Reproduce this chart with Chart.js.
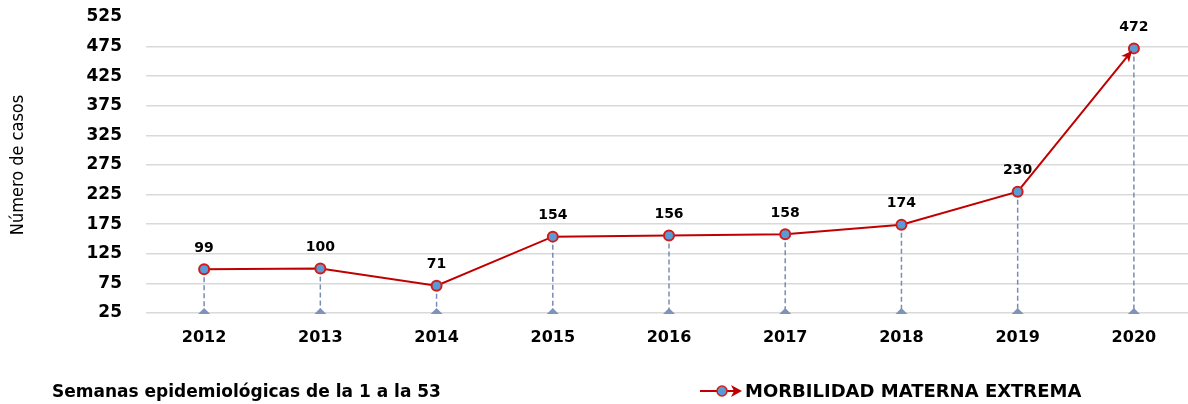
<!DOCTYPE html>
<html>
<head>
<meta charset="utf-8">
<script src="https://cdn.jsdelivr.net/npm/chart.js@4.4.1/dist/chart.umd.min.js"></script>
<style>
  body { margin: 0; width: 1188px; height: 404px; overflow: hidden; background: #fff; font-family: "DejaVu Sans", sans-serif; }
  #wrap { position: absolute; left: 0; top: 0; width: 1199px; height: 404px; }
  .note { position: absolute; font-weight: bold; font-size: 17px; color: #000; white-space: nowrap; }
</style>
</head>
<body>
<div id="wrap"><canvas id="morbilidad"></canvas></div>
<div class="note" style="left:52px; top:381px;">Semanas epidemiológicas de la 1 a la 53</div>
<div class="note" style="left:700px; top:380px; font-size:18px;">
  <svg width="42" height="20" style="vertical-align:-4px">
    <line x1="0" y1="10" x2="36" y2="10" stroke="#c00000" stroke-width="2"/>
    <circle cx="22" cy="10" r="5" fill="#5b9bd5" stroke="#d01c1c" stroke-width="1.5"/>
    <polygon points="42,10 31,4 34,10 31,16" fill="#c00000"/>
  </svg><span style="margin-left:3px">MORBILIDAD MATERNA EXTREMA</span>
</div>

<script>
const anios = ['2012', '2013', '2014', '2015', '2016', '2017', '2018', '2019', '2020'];
const casos = [99, 100, 71, 154, 156, 158, 174, 230, 472];
const yMin = 25;
const yMax = 525;
const yPaso = 50;

const rojo = '#c00000';
const azul = '#5b9bd5';
const gris = '#7a8db3';

// lineas verticales punteadas, triangulos en la base, etiquetas y flecha final
const extras = {
  id: 'extras',
  beforeDatasetsDraw(chart) {
    const ctx = chart.ctx, x = chart.scales.x, y = chart.scales.y;
    const base = y.getPixelForValue(yMin);
    ctx.save();
    casos.forEach(function(v, i) {
      const px = x.getPixelForValue(i), py = y.getPixelForValue(v);
      ctx.strokeStyle = gris;
      ctx.lineWidth = 1.5;
      ctx.setLineDash([5, 3]);
      ctx.beginPath();
      ctx.moveTo(px, py);
      ctx.lineTo(px, base);
      ctx.stroke();
      ctx.setLineDash([]);
      ctx.fillStyle = '#7f93b8';
      ctx.beginPath();
      ctx.moveTo(px - 6, base + 1);
      ctx.lineTo(px, base - 5);
      ctx.lineTo(px + 6, base + 1);
      ctx.closePath();
      ctx.fill();
    });
    ctx.restore();
  },
  afterDatasetsDraw(chart) {
    const ctx = chart.ctx, x = chart.scales.x, y = chart.scales.y;
    ctx.save();
    // flecha en el ultimo segmento
    const n = casos.length;
    const x0 = x.getPixelForValue(n - 2), y0 = y.getPixelForValue(casos[n - 2]);
    const x1 = x.getPixelForValue(n - 1), y1 = y.getPixelForValue(casos[n - 1]);
    const a = Math.atan2(y1 - y0, x1 - x0);
    const tx = x1 - 3 * Math.cos(a), ty = y1 - 3 * Math.sin(a);
    ctx.translate(tx, ty);
    ctx.rotate(a);
    ctx.fillStyle = rojo;
    ctx.beginPath();
    ctx.moveTo(0, 0);
    ctx.lineTo(-11, -5);
    ctx.lineTo(-8, 0);
    ctx.lineTo(-11, 5);
    ctx.closePath();
    ctx.fill();
    ctx.restore();

    ctx.save();
    ctx.font = 'bold 14px "DejaVu Sans"';
    ctx.fillStyle = '#000';
    ctx.textAlign = 'center';
    ctx.textBaseline = 'middle';
    casos.forEach(function(v, i) {
      ctx.fillText(String(v), x.getPixelForValue(i), y.getPixelForValue(v) - 21);
    });
    ctx.restore();
  }
};

new Chart(document.getElementById('morbilidad'), {
  type: 'line',
  data: {
    labels: anios,
    datasets: [{
      label: 'MORBILIDAD MATERNA EXTREMA',
      data: casos,
      borderColor: rojo,
      borderWidth: 2,
      backgroundColor: azul,
      pointBackgroundColor: azul,
      pointBorderColor: '#d01c1c',
      pointBorderWidth: 2,
      pointRadius: 5,
      tension: 0,
      fill: false
    }]
  },
  options: {
    responsive: true,
    maintainAspectRatio: false,
    animation: false,
    layout: { padding: { top: 17, right: 0, bottom: 0, left: 0 } },
    plugins: {
      legend: { display: false },
      tooltip: { enabled: false }
    },
    scales: {
      x: {
        offset: true,
        grid: { display: false, drawTicks: false },
        border: { display: false },
        ticks: {
          color: '#000',
          padding: 15,
          font: { family: 'DejaVu Sans', size: 16, weight: 'bold' }
        },
        afterFit(scale) { scale.height = 91; }
      },
      y: {
        min: yMin,
        max: yMax,
        grid: {
          color: function(c) { return c.tick && c.tick.value === yMax ? 'rgba(0,0,0,0)' : '#d9d9d9'; },
          lineWidth: 1.5,
          drawTicks: true,
          tickLength: 24,
          tickColor: 'rgba(0,0,0,0)'
        },
        border: { display: false },
        ticks: {
          stepSize: yPaso,
          color: '#000',
          padding: 0,
          font: { family: 'DejaVu Sans', size: 17, weight: 'bold' }
        },
        title: {
          display: true,
          text: 'Número de casos',
          color: '#000',
          padding: { top: 8, bottom: 0 },
          font: { family: 'DejaVu Sans Condensed', size: 18 }
        },
        afterFit(scale) { scale.width = 146; }
      }
    }
  },
  plugins: [extras]
});
</script>
</body>
</html>
